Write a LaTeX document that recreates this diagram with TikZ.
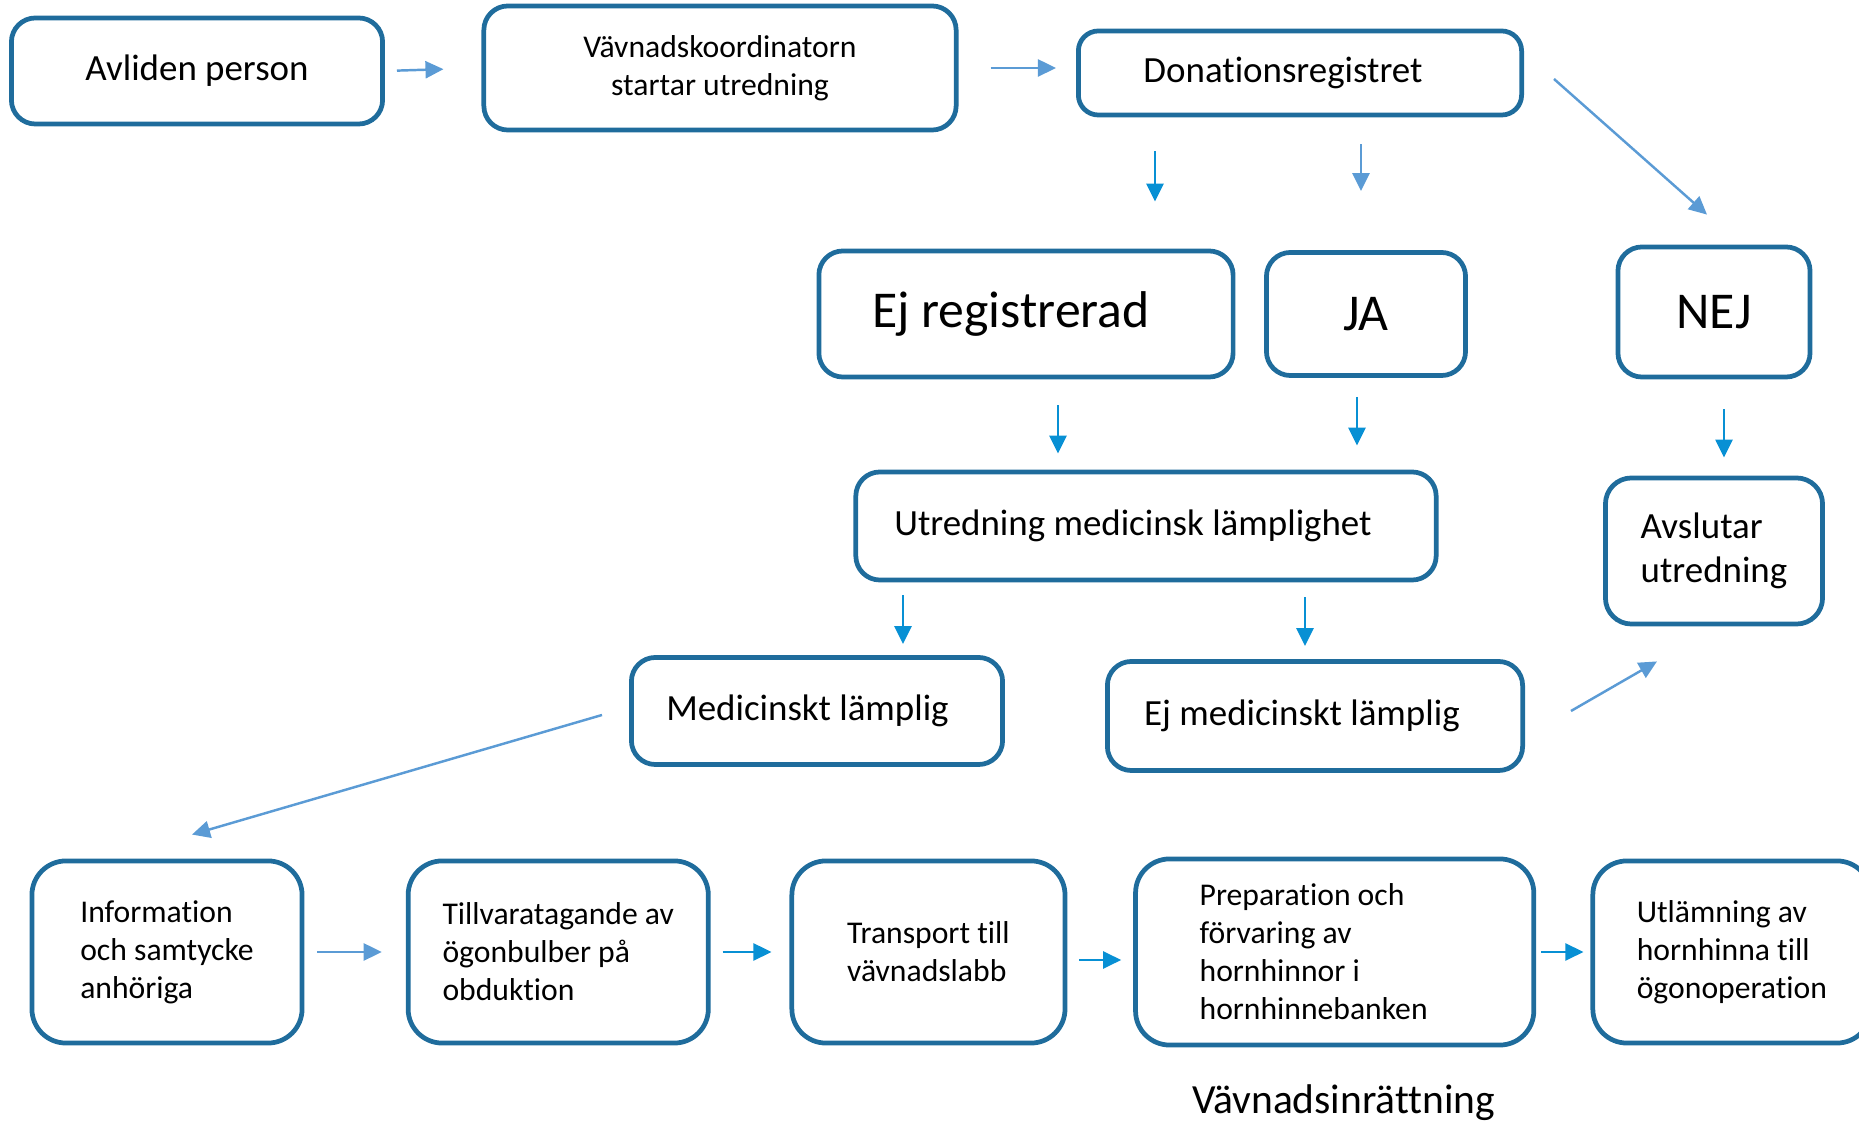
\documentclass[tikz,border=0pt]{standalone}
\usepackage{fontspec}
\setmainfont{Carlito}[Ligatures=NoCommon]
\usepackage{tikz}
\usetikzlibrary{positioning}
\usetikzlibrary{calc}
\usetikzlibrary{arrows.meta}
\definecolor{boxblue}{RGB}{31,108,156}
\definecolor{arrlight}{RGB}{91,155,213}
\definecolor{arrdark}{RGB}{8,144,212}
\tikzset{every picture/.style={line width=0.7pt}}

\begin{document}
\begin{tikzpicture}[x=0.01cm,y=-0.01cm,
  bx/.style={draw=boxblue,line width=1.35pt,rounded corners=0.24cm,align=left,font=\fontsize{10.5}{12.7}\selectfont},
  sbx/.style={bx,font=\fontsize{9}{10.8}\selectfont},
  bbx/.style={bx,font=\fontsize{14.7}{17.6}\selectfont},
  rowbx/.style={sbx,rounded corners=0.34cm,minimum height=1.82cm},
  pad/.style={execute at end node=\hspace*{#1}},
  la/.style={-{Triangle[length=0.18cm,width=0.17cm]},color=arrlight},
  da/.style={-{Triangle[length=0.18cm,width=0.17cm]},color=arrdark}]
\useasboundingbox (0,0) rectangle (1859,1122);
\node (avliden) [bx,minimum width=3.71cm,minimum height=1.06cm] at (197,71) {Avliden person};
\node (koord) [sbx,align=center,minimum width=4.72cm,minimum height=1.24cm] at (720,68) {Vävnadskoordinatorn\\startar utredning};
\node (donreg) [bx,pad=0.34cm,rounded corners=0.2cm,minimum width=4.43cm,minimum height=0.84cm] at (1300,73) {Donationsregistret};
\node (ejreg) [bbx,pad=0.30cm,minimum width=4.14cm,minimum height=1.26cm] at (1026,314) {Ej registrerad};
\node (ja) [bbx,minimum width=1.99cm,minimum height=1.23cm] at (1366,314) {JA};
\node (nej) [bbx,minimum width=1.92cm,minimum height=1.30cm] at (1714,312) {NEJ};
\node (utred) [bx,pad=0.26cm,minimum width=5.80cm,minimum height=1.08cm] at (1146,526) {Utredning medicinsk lämplighet};
\node (avslut) [bx,rounded corners=0.26cm,minimum width=2.17cm,minimum height=1.46cm] at (1714,551) {Avslutar\\utredning};
\node (medl) [bx,pad=0.19cm,minimum width=3.71cm,minimum height=1.07cm] at (817,711) {Medicinskt lämplig};
\node (ejmed) [bx,pad=0.26cm,minimum width=4.15cm,minimum height=1.09cm] at (1315,716) {Ej medicinskt lämplig};
\node (info) [rowbx,minimum width=2.70cm] at (167,952) {Information\\och samtycke\\anhöriga};
\node (till) [rowbx,right of=info,node distance=3.91cm,minimum width=3.00cm] {Tillvaratagande av\\ögonbulber på\\obduktion};
\node (trans) [rowbx,right of=till,node distance=3.70cm,minimum width=2.73cm] {Transport till\\vävnadslabb};
\node (prep) [rowbx,pad=0.42cm,right of=trans,node distance=4.06cm,minimum width=3.98cm,minimum height=1.86cm] {Preparation och\\förvaring av\\hornhinnor i\\hornhinnebanken};
\node (utl) [rowbx,right of=prep,node distance=3.97cm,minimum width=2.78cm] {Utlämning av\\hornhinna till\\ögonoperation};
\node (vinr) [below of=prep,node distance=1.51cm,xshift=0.09cm,font=\fontsize{11.8}{14}\selectfont] {Vävnadsinrättning};
\draw[la,shorten <=0.12cm,shorten >=0.38cm] (avliden.east) -- (koord.west);
\draw[la,shorten <=0.32cm,shorten >=0.20cm] (koord.east) -- (koord.east -| donreg.west);
\draw[la] ($(donreg.east)+(30,6)$) -- ($(nej.north)+(-7,-30)$);
\draw[da] ($(donreg.south)+(-145,34)$) -- ($(ejreg.north)+(129,-47)$);
\draw[la] ($(donreg.south)+(61,27)$) -- ($(ja.north)+(-5,-59)$);
\draw[da] ($(ejreg.south)+(32,26)$) -- ($(utred.north)+(-88,-16)$);
\draw[da] ($(ja.south)+(-9,19)$) -- ($(utred.north)+(211,-24)$);
\draw[da] ($(nej.south)+(10,30)$) -- ($(avslut.north)+(10,-18)$);
\draw[da] ($(utred.south)+(-243,13)$) -- ($(medl.north)+(86,-11)$);
\draw[da] ($(utred.south)+(159,15)$) -- ($(ejmed.north)+(-10,-13)$);
\draw[la] ($(ejmed.east)+(46,-5)$) -- ($(avslut.south)+(-57,35)$);
\draw[la] ($(medl.west)+(-27,4)$) -- ($(info.north)+(25,-24)$);
\draw[la,shorten <=0.13cm,shorten >=0.24cm] (info.east) -- (till.west);
\draw[da,shorten <=0.12cm,shorten >=0.18cm] (till.east) -- (trans.west);
\draw[da,shorten <=0.12cm,shorten >=0.12cm] ([yshift=-0.08cm]trans.east) -- ([yshift=-0.08cm]prep.west);
\draw[da,shorten <=0.05cm,shorten >=0.07cm] (prep.east) -- (utl.west);
\end{tikzpicture}
\end{document}
